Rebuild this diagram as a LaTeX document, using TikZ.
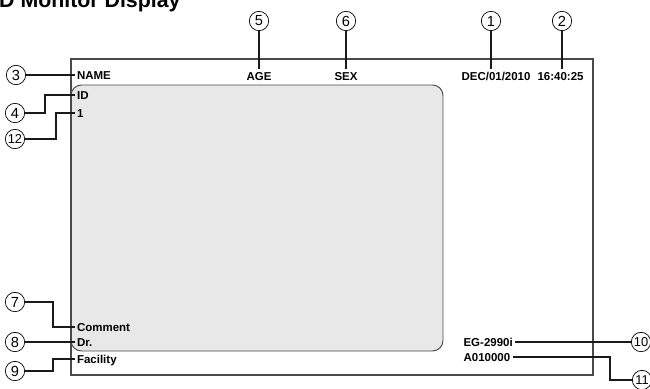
\documentclass[tikz,border=0pt]{standalone}
\usepackage{fontspec}
\setmainfont{Liberation Sans}
\usetikzlibrary{calc,positioning}
\definecolor{frameline}{HTML}{4A4A4A}
\definecolor{screen}{HTML}{E8E8E8}
\definecolor{leadline}{HTML}{1A1A1A}

\begin{document}
\begin{tikzpicture}[x=.03cm,y=-.03cm,
 txt/.style={font=\bfseries\fontsize{9.8}{11}\selectfont,inner sep=2pt,text height=7pt,text depth=0pt},
 num/.style={circle,draw,line width=.6pt,minimum size=16.5pt,inner sep=0pt,font=\fontsize{12.5}{13}\selectfont},
 numtwo/.style={num,font=\fontsize{11}{11}\selectfont},
 lead/.style={draw=leadline,line width=1.7pt}]
 \clip(0,0)rectangle(650,388);
 \node[anchor=base west,inner sep=0pt,font=\bfseries\fontsize{18.2}{20}\selectfont](title)at(-1,7){D Monitor Display};
 % screen
 \draw[fill=screen,draw=frameline,line width=.8pt,rounded corners=9pt](71,85)rectangle(443,351);
 \draw[frameline,line width=1.1pt](71,59)rectangle(593,375);
 % texts
 \node[txt,anchor=west](name)at(74.5,75){NAME};
 \node[txt](age)at(259,76){AGE};
 \node[txt](sex)at(346,76){SEX};
 \node[txt,anchor=west](date)at(459,76){DEC/01/2010};
 \node[txt,anchor=west](time)at(535,76){16:40:25};
 \node[txt,anchor=west](id)at(74.5,95){ID};
 \node[txt,anchor=west](idno)at(74.5,113){1};
 \node[txt,anchor=west](comment)at(74.5,327){Comment};
 \node[txt,anchor=west](doctor)at(74.5,342){Dr.};
 \node[txt,anchor=west](facility)at(74.5,359){Facility};
 \node[txt,anchor=west](model)at(461,342){EG-2990i};
 \node[txt,anchor=west](serial)at(461,357){A010000};
 % callouts
 \node[num](c1)at(491,21){1};
 \node[num](c2)at(562,21){2};
 \node[num](c3)at(16,75){3};
 \node[num](c4)at(15,113){4};
 \node[num](c5)at(259,21){5};
 \node[num](c6)at(346,21){6};
 \node[num](c7)at(15,302){7};
 \node[num](c8)at(15,342){8};
 \node[num](c9)at(15,371){9};
 \node[numtwo](c10)at(641,342){10};
 \node[numtwo](c11)at(642,380){11};
 \node[numtwo](c12)at(15,139){12};
 % leader lines
 \draw[lead](c1)--(c1|-date.north);
 \draw[lead](c2)--(c2|-time.north);
 \draw[lead](c5)--(age);
 \draw[lead](c6)--(sex);
 \draw[lead](c3)--(name.west);
 \draw[lead](c4)--++(30,0)|-(id.west);
 \draw[lead](c12)--++(41,0)|-(idno.west);
 \draw[lead](c7)--++(38,0)|-(comment.west);
 \draw[lead](c8)--(doctor.west);
 \draw[lead](c9)--++(38,0)|-(facility.west);
 \draw[lead](model.east)--(c10);
 \draw[lead](c11)--++(-32,0)|-(serial.east);
\end{tikzpicture}
\end{document}
